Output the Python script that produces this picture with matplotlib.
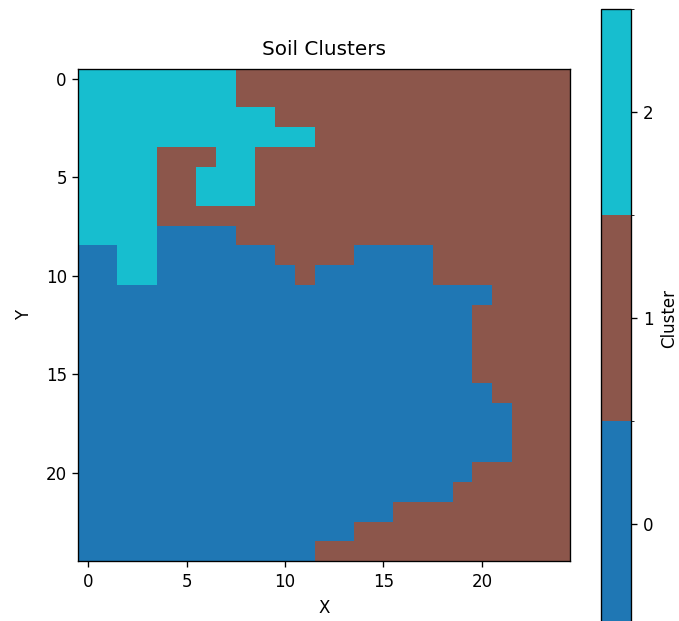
import numpy as np
import matplotlib
matplotlib.use("Agg")
import matplotlib.pyplot as plt
from matplotlib.colors import ListedColormap, BoundaryNorm

# cluster id per cell, one string per row (top row first)
cluster_rows = [
    "2222222211111111111111111",
    "2222222211111111111111111",
    "2222222222111111111111111",
    "2222222222221111111111111",
    "2222111221111111111111111",
    "2222112221111111111111111",
    "2222112221111111111111111",
    "2222111111111111111111111",
    "2222000011111111111111111",
    "0022000000111100001111111",
    "0022000000010000001111111",
    "0000000000000000000001111",
    "0000000000000000000011111",
    "0000000000000000000011111",
    "0000000000000000000011111",
    "0000000000000000000011111",
    "0000000000000000000001111",
    "0000000000000000000000111",
    "0000000000000000000000111",
    "0000000000000000000000111",
    "0000000000000000000011111",
    "0000000000000000000111111",
    "0000000000000000111111111",
    "0000000000000011111111111",
    "0000000000001111111111111",
]
cluster_ids = [0, 1, 2]
cluster_colors = ["#1f77b4", "#8c564b", "#17becf"]

grid = np.array([[int(c) for c in row] for row in cluster_rows])

s = 1.2  # the picture looks like a slightly enlarged default render
plt.rcParams.update({
    "font.size": 10 * s,
    "axes.titlesize": 12 * s,
    "axes.titlepad": 6 * s + 3,
    "axes.labelpad": 4 * s,
    "axes.linewidth": 0.8 * s,
    "xtick.major.size": 3.5 * s,
    "ytick.major.size": 3.5 * s,
    "xtick.major.width": 0.8 * s,
    "ytick.major.width": 0.8 * s,
    "xtick.major.pad": 3.5 * s,
    "ytick.major.pad": 3.5 * s,
})

cmap = ListedColormap(cluster_colors)
norm = BoundaryNorm(np.arange(-0.5, 3.5, 1), cmap.N)

fig = plt.figure(figsize=(6.79, 6.21), dpi=100)
ax = fig.add_axes([0.1155, 0.0965, 0.7246, 0.7923])
cax = fig.add_axes([0.8845, -0.01, 0.0455, 0.995])

im = ax.imshow(grid, cmap=cmap, norm=norm, interpolation='nearest')
ax.set_title("Soil Clusters")
ax.set_xlabel("X", labelpad=4 * s + 1)
ax.set_ylabel("Y", labelpad=4 * s + 4.5)

cb = fig.colorbar(im, cax=cax, ticks=cluster_ids)
cb.set_label("Cluster")

fig.savefig("out.png", dpi=100)
